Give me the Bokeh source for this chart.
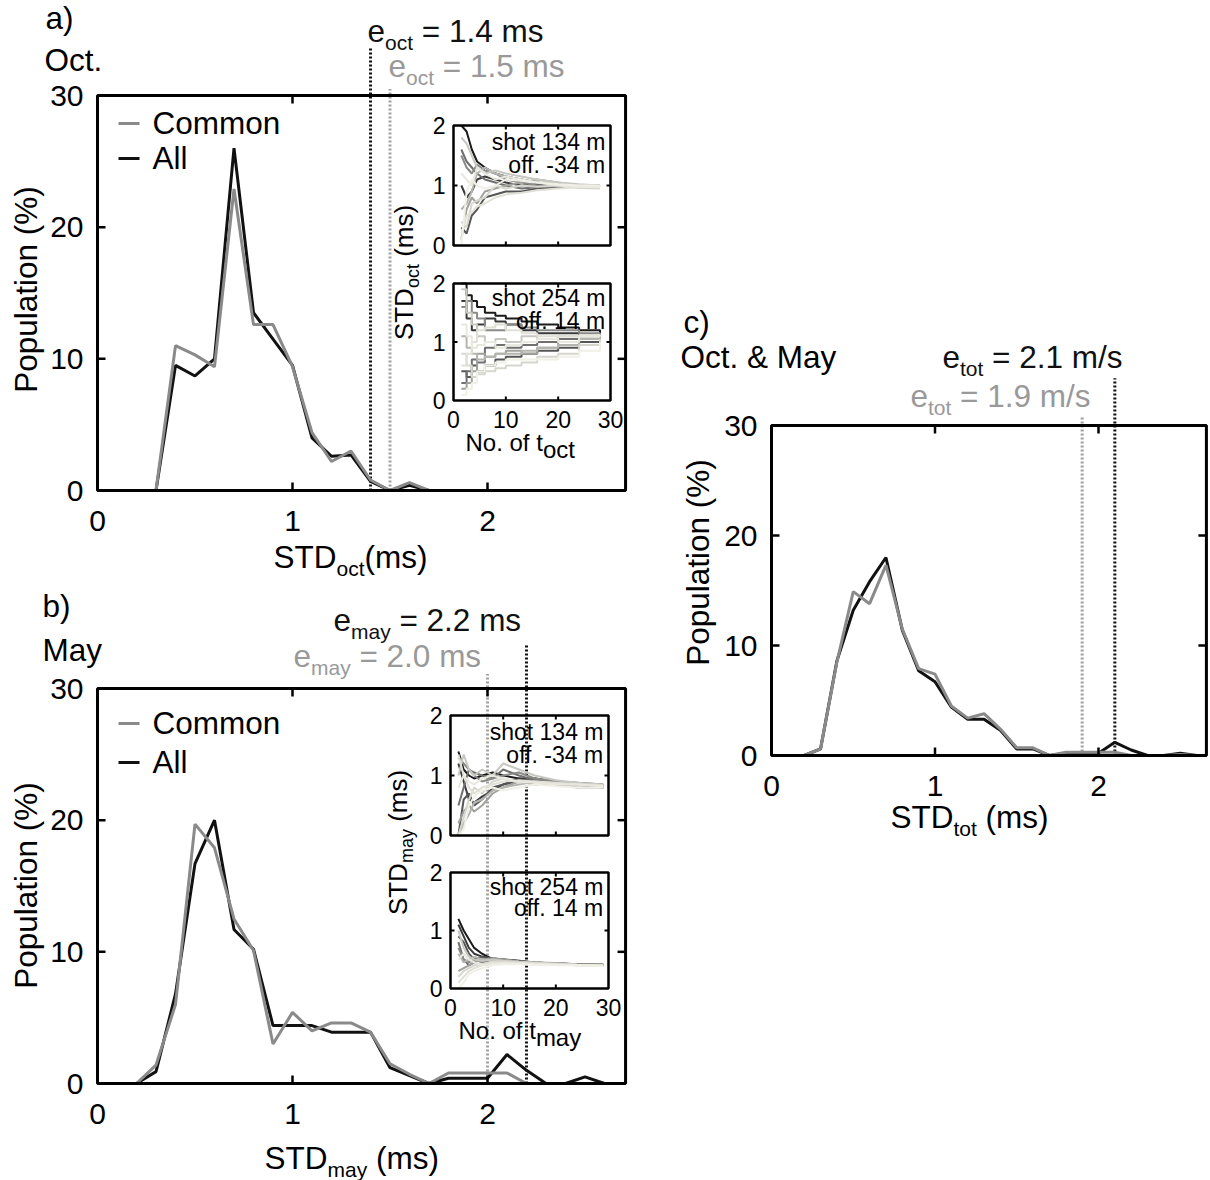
import math
from bokeh.plotting import figure
from bokeh.models import Range1d, ColumnDataSource
from bokeh.core.properties import value
from bokeh.embed import file_html
from bokeh.resources import INLINE

FONT = "Liberation Sans"

# ---------------- data ----------------
OCT_X = [0.3, 0.4, 0.5, 0.6, 0.7, 0.8, 0.9, 1.0, 1.1, 1.2, 1.3, 1.4, 1.5, 1.6, 1.7]
OCT_ALL = [0, 9.5, 8.7, 10.0, 26.0, 13.5, 11.5, 9.5, 4.0, 2.6, 2.7, 0.7, 0, 0.4, 0]
OCT_COMMON = [0, 11.0, 10.3, 9.4, 22.9, 12.6, 12.6, 9.4, 4.4, 2.2, 3.0, 0.8, 0, 0.6, 0]
OCT_E = [1.4, 1.5]            # e_oct (All, Common)
OCT_E_TOP = [33.6, 30.5]      # top of the dotted marker lines

MAY_X_ALL = [0.2, 0.3, 0.4, 0.5, 0.6, 0.7, 0.8, 0.9, 1.0, 1.1, 1.2, 1.3, 1.4,
             1.5, 1.6, 1.7, 1.8, 1.9, 2.0, 2.1, 2.2, 2.3, 2.4, 2.5, 2.6]
MAY_ALL = [0, 0.9, 6.8, 16.7, 20.0, 11.7, 10.2, 4.4, 4.4, 4.4, 3.9, 3.9, 3.9,
           1.2, 0.6, 0, 0.4, 0.4, 0.4, 2.2, 1.0, 0, 0, 0.5, 0]
MAY_X_COMMON = [0.2, 0.3, 0.4, 0.5, 0.6, 0.7, 0.8, 0.9, 1.0, 1.1, 1.2, 1.3, 1.4,
                1.5, 1.6, 1.7, 1.8, 1.9, 2.0, 2.1, 2.2]
MAY_COMMON = [0, 1.4, 6.0, 19.7, 17.9, 12.5, 10.1, 3.0, 5.4, 4.0, 4.6, 4.6, 3.9,
              1.5, 0.7, 0, 0.8, 0.8, 0.8, 0.8, 0]
MAY_E = [2.2, 2.0]
MAY_E_TOP = [33.3, 31.1]

TOT_X = [0.2, 0.3, 0.4, 0.5, 0.6, 0.7, 0.8, 0.9, 1.0, 1.1, 1.2, 1.3, 1.4,
         1.5, 1.6, 1.7, 1.8, 1.9, 2.0, 2.1, 2.2, 2.3, 2.4, 2.5, 2.6]
TOT_ALL = [0, 0.6, 8.6, 13.2, 15.8, 18.0, 11.4, 7.7, 6.7, 4.4, 3.3, 3.3, 2.3,
           0.6, 0.6, 0, 0.2, 0.2, 0.2, 1.2, 0.5, 0, 0, 0.2, 0]
TOT_COMMON = [0, 0.6, 8.5, 14.9, 13.8, 17.3, 11.5, 7.9, 7.4, 4.5, 3.4, 3.8, 2.4,
              0.7, 0.7, 0, 0.3, 0.3, 0.3, 0.3, 0, 0, 0, 0.1, 0]
TOT_E = [2.1, 1.9]
TOT_E_TOP = [34.3, 30.9]

MAIN_XTICKS = [0, 1, 2]
MAIN_YTICKS = [0, 10, 20, 30]
INSET_XTICKS = [0, 10, 20, 30]
INSET_YTICKS = [0, 1, 2]

# convergence curves (STD vs number of picks) for the insets
INSET_X_OCT = [1.5, 2.5, 3.5, 4.5, 6, 8, 10, 13, 16, 20, 24, 28]
OCT134 = [
    [2.0, 1.9, 1.6, 1.4, 1.3, 1.2, 1.15, 1.1, 1.05, 1.0, 1.0, 0.98],
    [1.0, 0.8, 0.9, 1.1, 1.15, 1.1, 1.05, 1.0, 1.02, 1.0, 0.99, 0.98],
    [0.3, 0.2, 0.5, 0.6, 0.8, 0.85, 0.9, 0.9, 0.95, 0.97, 1.0, 1.0],
    [1.6, 1.4, 1.3, 1.2, 1.1, 1.05, 1.0, 0.95, 0.97, 0.98, 0.99, 1.0],
    [1.5, 1.3, 1.2, 1.35, 1.25, 1.2, 1.1, 1.05, 1.0, 1.02, 0.98, 0.97],
    [0.1, 0.6, 0.8, 0.7, 0.9, 0.95, 1.0, 1.05, 1.1, 1.05, 1.0, 1.0],
    [0.6, 0.7, 0.9, 1.2, 1.3, 1.2, 1.15, 1.1, 1.05, 1.03, 1.01, 0.99],
    [1.8, 1.7, 1.5, 1.3, 1.2, 1.25, 1.2, 1.15, 1.1, 1.05, 1.02, 1.0],
    [0.4, 0.3, 0.7, 0.75, 0.8, 1.0, 0.95, 1.0, 0.98, 1.0, 0.96, 0.95],
    [0.2, 0.5, 0.55, 0.65, 0.7, 0.8, 0.85, 0.88, 0.92, 0.95, 0.97, 0.98],
    [1.2, 1.1, 1.0, 1.3, 1.2, 1.1, 1.15, 1.1, 1.05, 1.0, 0.98, 0.97],
    [0.0, 0.9, 1.1, 1.0, 0.95, 1.0, 1.1, 1.08, 1.05, 1.02, 1.0, 1.0],
]
OCT254 = [
    [2.0, 1.8, 1.7, 1.6, 1.5, 1.45, 1.4, 1.35, 1.3, 1.25, 1.2, 1.15],
    [1.7, 1.4, 1.2, 1.3, 1.4, 1.35, 1.3, 1.2, 1.15, 1.15, 1.12, 1.1],
    [0.5, 0.4, 0.6, 0.5, 0.6, 0.7, 0.75, 0.8, 0.85, 0.9, 1.0, 1.1],
    [0.3, 0.5, 0.7, 0.65, 0.9, 0.95, 0.9, 0.95, 1.0, 1.05, 1.1, 1.12],
    [1.6, 1.7, 1.5, 1.4, 1.2, 1.2, 1.3, 1.25, 1.2, 1.2, 1.15, 1.1],
    [0.2, 0.3, 0.5, 0.8, 0.75, 0.8, 0.85, 0.8, 0.9, 1.0, 1.05, 1.1],
    [1.1, 0.9, 0.8, 0.7, 0.75, 0.8, 0.8, 0.85, 0.9, 0.95, 1.05, 1.1],
    [1.9, 1.5, 1.3, 1.1, 1.0, 1.05, 1.0, 1.1, 1.05, 1.1, 1.1, 1.12],
    [0.8, 0.6, 0.4, 0.45, 0.5, 0.55, 0.6, 0.65, 0.75, 0.8, 0.95, 1.05],
    [0.6, 0.8, 1.0, 1.2, 1.25, 1.3, 1.2, 1.15, 1.1, 1.1, 1.12, 1.1],
    [1.3, 1.1, 0.9, 0.95, 1.0, 0.9, 0.95, 1.0, 1.05, 1.0, 1.1, 1.1],
    [0.1, 0.2, 0.3, 0.5, 0.6, 0.65, 0.7, 0.7, 0.7, 0.75, 0.85, 1.0],
]
INSET_X_MAY = [1.5, 2.5, 3.5, 4.5, 6, 8, 10, 13, 16, 20, 24, 29]
MAY134 = [
    [1.4, 1.1, 1.0, 0.95, 1.0, 1.05, 1.0, 0.95, 0.95, 0.9, 0.85, 0.8],
    [1.2, 0.9, 0.6, 0.55, 0.65, 0.75, 0.85, 0.95, 0.9, 0.88, 0.86, 0.84],
    [0.0, 0.6, 0.7, 0.5, 0.6, 0.8, 0.85, 0.9, 0.95, 0.9, 0.88, 0.85],
    [0.5, 0.8, 1.1, 1.05, 1.0, 0.95, 1.1, 1.0, 0.92, 0.9, 0.86, 0.83],
    [1.3, 1.2, 1.1, 1.0, 0.9, 0.95, 1.0, 1.05, 0.95, 0.9, 0.85, 0.82],
    [0.2, 0.4, 0.5, 0.4, 0.5, 0.7, 0.8, 0.9, 0.85, 0.85, 0.8, 0.8],
    [0.0, 0.2, 0.35, 0.55, 0.6, 0.75, 0.8, 0.85, 0.9, 0.86, 0.84, 0.83],
    [1.0, 1.35, 1.1, 1.0, 1.1, 1.0, 1.2, 1.1, 1.0, 0.92, 0.88, 0.85],
    [0.0, 0.3, 0.6, 0.8, 0.7, 0.9, 0.95, 0.88, 0.9, 0.87, 0.86, 0.84],
    [1.35, 1.0, 0.8, 0.7, 0.8, 0.85, 0.9, 0.92, 0.9, 0.88, 0.85, 0.83],
    [0.8, 1.0, 0.9, 0.85, 0.95, 1.0, 0.95, 0.9, 0.88, 0.85, 0.85, 0.82],
    [0.0, 0.1, 0.5, 0.65, 0.75, 0.8, 0.75, 0.8, 0.85, 0.82, 0.8, 0.8],
]
MAY254 = [
    [1.2, 1.0, 0.85, 0.7, 0.6, 0.5, 0.5, 0.48, 0.45, 0.43, 0.42, 0.4],
    [1.1, 0.9, 0.7, 0.6, 0.55, 0.52, 0.5, 0.47, 0.45, 0.43, 0.42, 0.41],
    [0.9, 0.8, 0.6, 0.5, 0.55, 0.5, 0.48, 0.45, 0.44, 0.42, 0.41, 0.4],
    [0.8, 0.5, 0.4, 0.45, 0.5, 0.5, 0.47, 0.45, 0.43, 0.42, 0.41, 0.4],
    [0.7, 0.5, 0.45, 0.5, 0.45, 0.5, 0.5, 0.46, 0.44, 0.43, 0.42, 0.42],
    [0.3, 0.35, 0.4, 0.45, 0.5, 0.52, 0.5, 0.47, 0.45, 0.44, 0.42, 0.41],
    [0.6, 0.45, 0.5, 0.55, 0.5, 0.48, 0.46, 0.45, 0.43, 0.42, 0.4, 0.4],
    [1.0, 0.7, 0.55, 0.5, 0.48, 0.5, 0.48, 0.46, 0.45, 0.43, 0.41, 0.4],
    [0.2, 0.3, 0.35, 0.4, 0.42, 0.46, 0.47, 0.45, 0.44, 0.42, 0.41, 0.4],
    [0.1, 0.2, 0.3, 0.35, 0.4, 0.45, 0.45, 0.44, 0.43, 0.42, 0.41, 0.4],
    [0.5, 0.6, 0.5, 0.45, 0.4, 0.42, 0.44, 0.43, 0.42, 0.41, 0.4, 0.39],
    [0.0, 0.1, 0.25, 0.3, 0.35, 0.4, 0.42, 0.42, 0.41, 0.4, 0.4, 0.39],
]
INSET_COLORS = ["#1a1a1a", "#3a3a3a", "#555555", "#707070", "#8a8a88", "#a0a09c",
                "#b5b5b0", "#c8c8c2", "#d6d6ce", "#e0e0d6", "#e8e8de", "#f0f0e6"]

BLACK = "#111111"
GRAY = "#8a8a8a"
GRAY_TXT = "#999999"
FS = 31.5     # label text
TFS = 30      # tick labels
SUB = 21
BASE_FIX = 0.36   # alphabetic-baseline correction, fraction of font size

# ---------------- canvas ----------------
W, H = 1210, 1180
OFF = 0

p = figure(width=W, height=H, x_range=Range1d(0, W), y_range=Range1d(0, H),
           x_axis_type=None, y_axis_type=None, min_border=0,
           output_backend="svg", toolbar_location=None, tools="")
p.outline_line_color = None
p.background_fill_color = "white"
p.border_fill_color = "white"


def pg(px, py):
    """page pixel -> default-range coordinates"""
    return px - OFF, OFF + H - py


# Arial/Liberation Sans advance widths (per 1000 em)
WID = {" ": 278, "(": 333, ")": 333, "%": 889, "&": 667, ".": 278, "-": 333,
       "/": 278, "=": 584, "A": 667, "C": 722, "D": 722, "N": 722, "O": 778,
       "P": 667, "S": 667, "T": 611, "M": 833, "a": 556, "c": 500, "e": 556,
       "f": 278, "h": 556, "i": 222, "l": 222, "m": 833, "n": 556, "o": 556,
       "p": 556, "s": 500, "t": 278, "u": 556, "y": 500, "b": 556}


def text_w(s, size):
    return sum(WID.get(ch, 556) for ch in s) * size / 1000.0


TXT = dict(x=[], y=[], text=[], size=[], color=[], angle=[])


def put(px, py, txt, size, color, angle=0.0):
    if angle == 0.0:
        py -= BASE_FIX * size
    else:
        px -= BASE_FIX * size
    x, y = pg(px, py)
    TXT["x"].append(x)
    TXT["y"].append(y)
    TXT["text"].append(txt)
    TXT["size"].append(f"{size}px")
    TXT["color"].append(color)
    TXT["angle"].append(angle)


def rich(left, base, parts, color):
    pos = left
    for txt, size, shift in parts:
        lead = len(txt) - len(txt.lstrip(" "))
        pos += lead * text_w(" ", size)
        txt = txt.lstrip(" ")
        put(pos, base + shift, txt, size, color)
        pos += text_w(txt, size)


def rich_v(base_x, center_y, parts, color):
    total = sum(text_w(t, s) for t, s, _ in parts)
    pos = center_y + total / 2.0
    for txt, size, shift in parts:
        lead = len(txt) - len(txt.lstrip(" "))
        pos -= lead * text_w(" ", size)
        txt = txt.lstrip(" ")
        put(base_x + shift, pos, txt, size, color, angle=math.pi / 2)
        pos -= text_w(txt, size)


def right_text(right, base, txt, size, color):
    put(right - text_w(txt, size), base, txt, size, color)


# ---------------- panel scales (page pixel of data origin, px per unit) ----
XR, YR = {}, {}


def add_scale(name, X0, KX, Y0, KY):
    XR[name] = Range1d((OFF - X0) / KX, (OFF + W - X0) / KX)
    YR[name] = Range1d((Y0 - OFF - H) / KY, (Y0 - OFF) / KY)
    return dict(X0=X0, KX=KX, Y0=Y0, KY=KY)


GA = add_scale("a", 97, 195.0, 490, 395 / 30.0)
GB = add_scale("b", 97, 195.0, 1083, 395 / 30.0)
GC = add_scale("c", 771, 163.5, 755, 11.0)
GA1 = add_scale("a1", 453, 157 / 30.0, 245, 120 / 2.0)
GA2 = add_scale("a2", 453, 157 / 30.0, 400, 117 / 2.0)
GB1 = add_scale("b1", 450, 158 / 30.0, 835, 120 / 2.0)
GB2 = add_scale("b2", 450, 158 / 30.0, 988, 116 / 2.0)
p.extra_x_ranges = XR
p.extra_y_ranges = YR

XMAX_MAIN = {"a": 2.708, "b": 2.708, "c": 2.66}


def tick_labels(name, G, xs, ys, size, xgap, ygap):
    kw = dict(x_range_name=name, y_range_name=name)
    p.text(x=[-xgap / G["KX"]] * len(ys), y=ys, text=[str(t) for t in ys],
           text_align="right", text_baseline="middle", text_color="black",
           text_font=value(FONT), text_font_size=value(f"{size}px"), **kw)
    if xs:
        p.text(x=xs, y=[-ygap / G["KY"]] * len(xs), text=[str(t) for t in xs],
               text_align="center", text_baseline="middle", text_color="black",
               text_font=value(FONT), text_font_size=value(f"{size}px"), **kw)


def box_ticks(name, G, xticks, yticks, xmax, ymax, tl, lw):
    kw = dict(x_range_name=name, y_range_name=name)
    xt = [t for t in xticks if 0 < t < xmax]
    yt = [t for t in yticks if 0 < t < ymax]
    dy = tl / G["KY"]
    dx = tl / G["KX"]
    p.segment(x0=xt + xt, y0=[0] * len(xt) + [ymax] * len(xt), x1=xt + xt,
              y1=[dy] * len(xt) + [ymax - dy] * len(xt),
              line_color="black", line_width=lw, **kw)
    p.segment(x0=[0] * len(yt) + [xmax] * len(yt), y0=yt + yt,
              x1=[dx] * len(yt) + [xmax - dx] * len(yt), y1=yt + yt,
              line_color="black", line_width=lw, **kw)
    p.quad(left=[0], right=[xmax], bottom=[0], top=[ymax], fill_color=None,
           line_color="black", line_width=lw + 0.5, **kw)


def main_panel(name, G, x_all, y_all, x_com, y_com, e_vals, e_tops):
    kw = dict(x_range_name=name, y_range_name=name)
    xmax = XMAX_MAIN[name]
    ymax = MAIN_YTICKS[-1]
    p.segment(x0=[e_vals[0]], y0=[0], x1=[e_vals[0]], y1=[e_tops[0]],
              line_color=BLACK, line_width=3, line_dash="2 2", **kw)
    p.segment(x0=[e_vals[1]], y0=[0], x1=[e_vals[1]], y1=[e_tops[1]],
              line_color="#a0a0a0", line_width=3, line_dash="2 2", **kw)
    p.line(x_all, y_all, line_color=BLACK, line_width=3, **kw)
    p.line(x_com, y_com, line_color=GRAY, line_width=3, **kw)
    box_ticks(name, G, MAIN_XTICKS, MAIN_YTICKS, xmax, ymax, 8, 2.5)
    tick_labels(name, G, MAIN_XTICKS, MAIN_YTICKS, TFS, 14, 30)


def inset(name, G, xs, curves, with_x, step=False):
    kw = dict(x_range_name=name, y_range_name=name)
    for ys, col in zip(curves, INSET_COLORS):
        if step:
            p.step(xs, ys, mode="after", line_color=col, line_width=2, **kw)
        else:
            p.line(xs, ys, line_color=col, line_width=2, **kw)
    box_ticks(name, G, INSET_XTICKS, INSET_YTICKS, 30, 2, 4, 2)
    tick_labels(name, G, INSET_XTICKS if with_x else [], INSET_YTICKS, 23, 8, 19)


def legend(glyph_left, c1, c2):
    for cy, col, txt in ((c1, GRAY, "Common"), (c2, BLACK, "All")):
        x0, y0 = pg(glyph_left, cy)
        x1, _ = pg(glyph_left + 21, cy)
        p.segment(x0=[x0], y0=[y0], x1=[x1], y1=[y0], line_color=col, line_width=3)
        put(glyph_left + 34, cy + 11, txt, FS, "black")


# ---- panel a ----
main_panel("a", GA, OCT_X, OCT_ALL, OCT_X, OCT_COMMON, OCT_E, OCT_E_TOP)
inset("a1", GA1, INSET_X_OCT, OCT134, False)
inset("a2", GA2, INSET_X_OCT, OCT254, True, step=True)
legend(118, 123, 158)
put(45, 29, "a)", FS, "black")
put(44, 71, "Oct.", FS, "black")
rich(367, 42, [("e", FS, 0), ("oct", SUB, 8), (f" = {OCT_E[0]} ms", FS, 0)], BLACK)
rich(388, 77, [("e", FS, 0), ("oct", SUB, 8), (f" = {OCT_E[1]} ms", FS, 0)], GRAY_TXT)
rich(273, 568, [("STD", FS, 0), ("oct", SUB, 8), ("(ms)", FS, 0)], "black")
rich_v(37, 289, [("Population (%)", FS, 0)], "black")
rich_v(413, 272, [("STD", 26, 0), ("oct", 18, 6), (" (ms)", 26, 0)], "black")
rich(465, 451, [("No. of t", 24, 0), ("oct", 24, 7)], "black")
right_text(605, 150, "shot 134 m", 23, "black")
right_text(605, 173, "off. -34 m", 23, "black")
right_text(605, 306, "shot 254 m", 23, "black")
right_text(605, 329, "off. 14 m", 23, "black")

# ---- panel b ----
main_panel("b", GB, MAY_X_ALL, MAY_ALL, MAY_X_COMMON, MAY_COMMON, MAY_E, MAY_E_TOP)
inset("b1", GB1, INSET_X_MAY, MAY134, False)
inset("b2", GB2, INSET_X_MAY, MAY254, True)
legend(118, 723, 762)
put(42, 617, "b)", FS, "black")
put(42, 661, "May", FS, "black")
rich(333, 631, [("e", FS, 0), ("may", SUB, 8), (f" = {MAY_E[0]} ms", FS, 0)], BLACK)
rich(293, 667, [("e", FS, 0), ("may", SUB, 8), (f" = {MAY_E[1]} ms", FS, 0)], GRAY_TXT)
rich(264, 1169, [("STD", FS, 0), ("may", SUB, 8), (" (ms)", FS, 0)], "black")
rich_v(37, 885, [("Population (%)", FS, 0)], "black")
rich_v(407, 842, [("STD", 26, 0), ("may", 18, 6), (" (ms)", 26, 0)], "black")
rich(458, 1039, [("No. of t", 24, 0), ("may", 24, 7)], "black")
right_text(603, 740, "shot 134 m", 23, "black")
right_text(603, 763, "off. -34 m", 23, "black")
right_text(603, 895, "shot 254 m", 23, "black")
right_text(603, 916, "off. 14 m", 23, "black")

# ---- panel c ----
main_panel("c", GC, TOT_X, TOT_ALL, TOT_X, TOT_COMMON, TOT_E, TOT_E_TOP)
put(683, 333, "c)", FS, "black")
put(680, 368, "Oct. & May", FS, "black")
rich(942, 368, [("e", FS, 0), ("tot", SUB, 8), (f" = {TOT_E[0]} m/s", FS, 0)], BLACK)
rich(910, 407, [("e", FS, 0), ("tot", SUB, 8), (f" = {TOT_E[1]} m/s", FS, 0)], GRAY_TXT)
rich(890, 828, [("STD", FS, 0), ("tot", SUB, 8), (" (ms)", FS, 0)], "black")
rich_v(709, 562, [("Population (%)", FS, 0)], "black")

src = ColumnDataSource(data=TXT)
p.text(x="x", y="y", text="text", text_font_size="size", text_color="color",
       angle="angle", text_align="left", text_baseline="alphabetic",
       text_font=value(FONT), source=src)

open("out.html", "w").write(file_html(p, INLINE))
